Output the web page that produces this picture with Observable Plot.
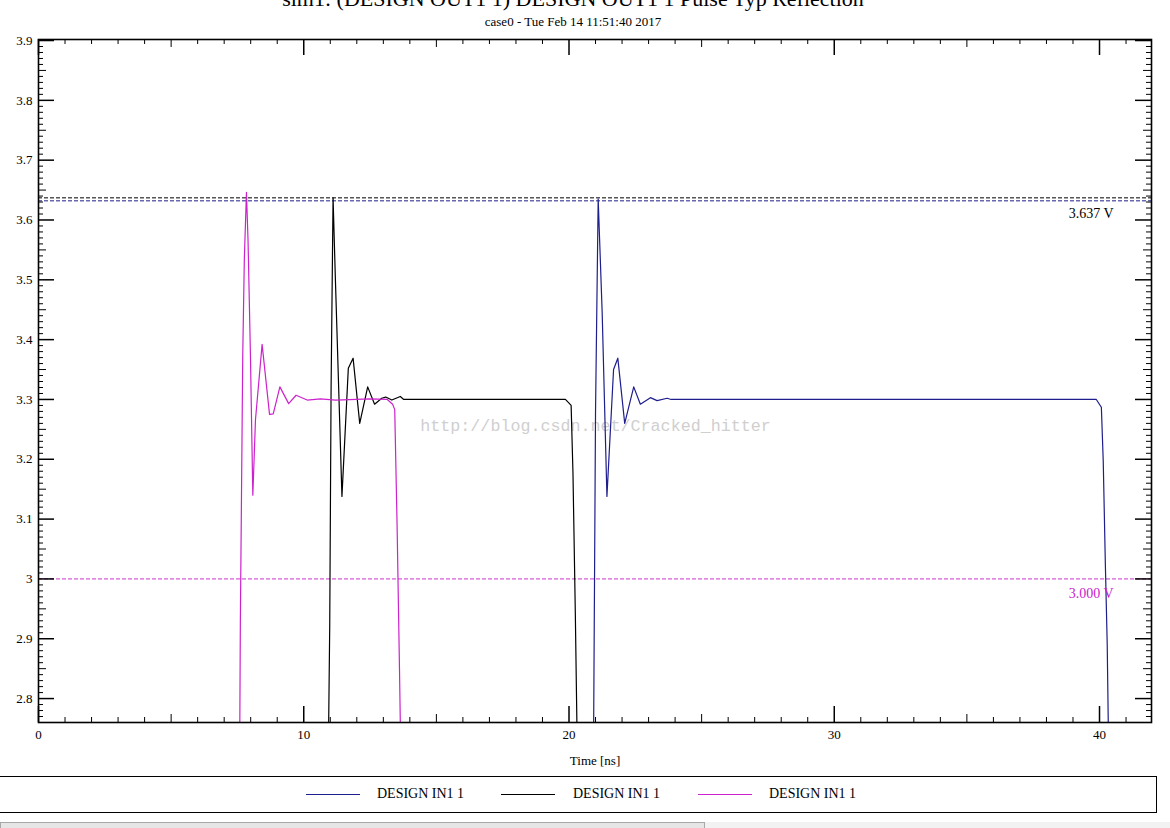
<!DOCTYPE html>
<html><head><meta charset="utf-8">
<script src="https://cdn.jsdelivr.net/npm/d3@7"></script>
<script src="https://cdn.jsdelivr.net/npm/@observablehq/plot@0.6"></script>
<style>
html,body{margin:0;padding:0;background:#fff;width:1170px;height:828px;overflow:hidden;position:relative;font-family:"Liberation Serif","DejaVu Serif",serif;}
#title{position:absolute;left:0;top:-14px;width:1146px;text-align:center;font-size:22px;white-space:nowrap;}
#subtitle{position:absolute;left:0;top:14px;width:1146px;text-align:center;font-size:13px;white-space:nowrap;}
#chart{position:absolute;left:0;top:30px;}
#legend{position:absolute;left:-2px;top:776px;width:1159px;height:37px;border:1.5px solid #000;box-sizing:border-box;}
.lg-line{position:absolute;top:17px;height:1.3px;width:54px;}
.lg-text{position:absolute;top:9px;font-size:14px;white-space:nowrap;}
#scroll1{position:absolute;left:0;top:822px;width:705px;height:8px;background:#e6e6e6;border:1px solid #a8a8a8;box-sizing:border-box;}
#scroll2{position:absolute;left:705px;top:822px;width:465px;height:8px;background:#f2f2f2;}
</style></head>
<body>
<div id="title">sim1: (DESIGN OUT1 1) DESIGN OUT1 1 Pulse Typ Reflection</div>
<div id="subtitle">case0 - Tue Feb 14 11:51:40 2017</div>
<div id="chart"></div>
<div id="legend"></div>
<div id="scroll1"></div><div id="scroll2"></div>
<script>
// ---- data ----
const seriesNames = ["DESIGN IN1 1", "DESIGN IN1 1", "DESIGN IN1 1"];
const seriesColors = ["#1e1e8c", "#000000", "#cc22cc"];

// blue trace
const blueT = [0, 20.80, 20.93, 21.00, 21.10, 21.25, 21.43, 21.68, 21.84, 22.10, 22.44, 22.69, 23.07, 23.32, 23.70, 23.85, 39.88, 40.07, 40.14, 40.22, 40.29, 40.33, 40.45];
const blueV = [0, 2.00, 2.76, 3.28, 3.635, 3.446, 3.138, 3.350, 3.369, 3.260, 3.321, 3.292, 3.303, 3.298, 3.302, 3.300, 3.300, 3.287, 3.198, 3.025, 2.892, 2.760, 2.000];
// black trace
const blackT = [0, 10.85, 10.94, 10.98, 11.03, 11.105, 11.19, 11.44, 11.68, 11.86, 12.11, 12.41, 12.67, 12.94, 13.09, 13.32, 13.64, 13.77, 19.865, 20.08, 20.15, 20.24, 20.30, 20.42];
const blackV = [0, 2.00, 2.76, 2.925, 3.314, 3.637, 3.505, 3.138, 3.352, 3.369, 3.260, 3.321, 3.292, 3.302, 3.304, 3.299, 3.305, 3.300, 3.300, 3.290, 3.176, 2.937, 2.750, 2.000];
// magenta trace
const magT = [0, 7.50, 7.59, 7.61, 7.70, 7.76, 7.84, 7.90, 7.99, 8.08, 8.18, 8.43, 8.71, 8.85, 9.10, 9.43, 9.71, 10.13, 10.63, 11.20, 12.50, 13.15, 13.35, 13.43, 13.52, 13.61, 13.66, 13.80];
const magV = [0, 2.00, 2.758, 2.928, 3.374, 3.535, 3.646, 3.565, 3.374, 3.140, 3.266, 3.392, 3.275, 3.276, 3.321, 3.293, 3.307, 3.299, 3.301, 3.299, 3.301, 3.300, 3.292, 3.283, 3.087, 2.848, 2.700, 2.000];

const markerValues = [3.637, 3.632, 3.000];
const markerColors = ["#000000", "#1e1e8c", "#cc33cc"];
const markerLabels = ["3.637 V", "3.000 V"];
const markerLabelColors = ["#000000", "#cc22cc"];
const markerLabelY = [3.611, 2.9756];

const xTickLabels = [0, 10, 20, 30, 40];
const yTickLabels = [2.8, 2.9, 3.0, 3.1, 3.2, 3.3, 3.4, 3.5, 3.6, 3.7, 3.8, 3.9];
const xLabel = "Time [ns]";
const watermark = "http://blog.csdn.net/Cracked_hitter";

// ---- layout ----
const X0 = 0, X1 = 41.96, Y0 = 2.76, Y1 = 3.9017;
const W = 1170, H = 742, mL = 38, mR = 19, mT = 9, mB = 50;
const tpp = (X1 - X0) / (W - mL - mR);
const vpp = (Y1 - Y0) / (H - mT - mB);

const toRows = (T, V) => T.map((t, i) => ({t, v: V[i]}));
const traces = [toRows(blueT, blueV), toRows(blackT, blackV), toRows(magT, magV)];

const xMajor = xTickLabels;
const xMid = [5, 15, 25, 35];
const xMinor = d3.range(1, 42).filter(d => d % 5 !== 0);
const yAll = d3.range(276, 391).map(d => d / 100);
const yMajor = yAll.filter(d => Math.round(d * 100) % 10 === 0);
const yMid = yAll.filter(d => Math.round(d * 100) % 10 === 5);
const yMinor = yAll.filter(d => Math.round(d * 100) % 5 !== 0);

const xTicks = (vals, len, sw) => [
  Plot.ruleX(vals, {x: d => d, y1: Y0, y2: Y0 + len * vpp, stroke: "#000", strokeWidth: sw}),
  Plot.ruleX(vals, {x: d => d, y1: Y1 - len * vpp, y2: Y1, stroke: "#000", strokeWidth: sw})
];
const yTicks = (vals, len, sw) => [
  Plot.ruleY(vals, {y: d => d, x1: X0, x2: X0 + len * tpp, stroke: "#000", strokeWidth: sw}),
  Plot.ruleY(vals, {y: d => d, x1: X1 - len * tpp, x2: X1, stroke: "#000", strokeWidth: sw})
];

const font = "Liberation Serif, DejaVu Serif, serif";

const plot = Plot.plot({
  width: W, height: H,
  marginLeft: mL, marginRight: mR, marginTop: mT, marginBottom: mB,
  style: {fontFamily: font, fontSize: "13px", background: "#fff", color: "#000"},
  x: {domain: [X0, X1], label: null},
  y: {domain: [Y0, Y1], label: null},
  marks: [
    Plot.text([watermark], {x: 21.0, y: 3.2564, text: d => d, fill: "#cfcfcf", fontSize: 16.7, fontFamily: "Liberation Mono, DejaVu Sans Mono, monospace", textAnchor: "middle", lineAnchor: "middle"}),
    ...markerValues.map((v, i) => Plot.ruleY([v], {stroke: markerColors[i], strokeWidth: 1, strokeDasharray: "4,2"})),
    ...traces.map((rows, i) => Plot.line(rows, {x: "t", y: "v", stroke: seriesColors[i], strokeWidth: 1.2, clip: true})),
    ...markerLabels.map((s, i) => Plot.text([s], {x: 40.53, y: markerLabelY[i], text: d => d, fill: markerLabelColors[i], fontSize: 14, textAnchor: "end", lineAnchor: "middle"})),
    ...xTicks(xMinor, 5, 1), ...xTicks(xMid, 8, 1), ...xTicks(xMajor, 16, 1.5),
    ...yTicks(yMinor, 5, 1), ...yTicks(yMid, 8, 1), ...yTicks(yMajor, 16, 1.5),
    Plot.axisX(xTickLabels, {anchor: "bottom", tickSize: 0, tickPadding: 7, fontSize: 13, label: null}),
    Plot.axisY(yTickLabels, {anchor: "left", tickSize: 0, tickPadding: 6, fontSize: 13, label: null,
      tickFormat: d => (Math.abs(d - 3) < 1e-9 ? "3" : d.toFixed(1))}),
    Plot.text([xLabel], {frameAnchor: "bottom", dy: 38, text: d => d, fontSize: 13, lineAnchor: "middle"}),
    Plot.frame({stroke: "#000", strokeWidth: 1.6})
  ]
});
document.getElementById("chart").appendChild(plot);

// legend
const legend = document.getElementById("legend");
const legendLineX = [305, 500, 697];
const legendTextX = [376, 572, 768];
seriesNames.forEach((name, i) => {
  const l = document.createElement("div");
  l.className = "lg-line";
  l.style.left = (legendLineX[i] + 2) + "px";
  l.style.background = seriesColors[i];
  legend.appendChild(l);
  const t = document.createElement("div");
  t.className = "lg-text";
  t.style.left = (legendTextX[i] + 2) + "px";
  t.textContent = name;
  legend.appendChild(t);
});
</script>
</body></html>
